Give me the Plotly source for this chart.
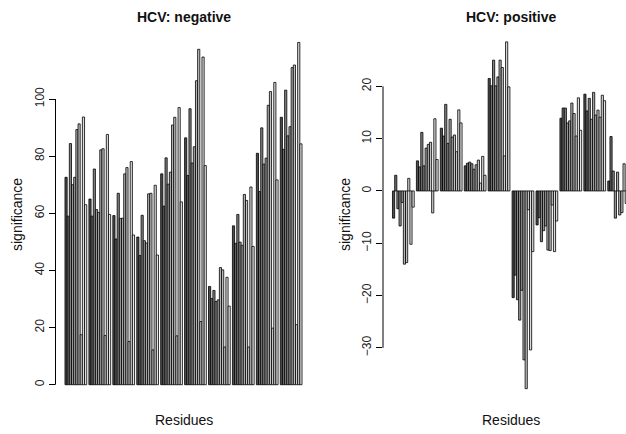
import plotly.graph_objects as go

# Significance per residue, 10 residue groups x 10 series, listed group by group
residue_groups = [f"G{i}" for i in range(1, 11)]
series_names = [f"S{i}" for i in range(1, 11)]

hcv_negative = [
    72.6, 59.0, 84.4, 70.0, 72.6, 89.3, 91.3, 17.5, 93.7, 63.0,
    65.0, 59.0, 75.5, 61.3, 60.3, 82.2, 82.6, 17.2, 87.6, 59.6,
    59.2, 51.0, 67.0, 58.2, 58.3, 73.8, 76.0, 15.1, 78.1, 52.4,
    51.7, 45.2, 59.3, 50.4, 49.6, 66.8, 67.0, 12.2, 69.8, 45.4,
    73.8, 62.5, 79.4, 70.2, 74.4, 90.9, 93.6, 17.1, 97.0, 64.0,
    86.4, 73.2, 96.6, 77.6, 83.3, 106.4, 117.4, 22.1, 114.7, 76.7,
    34.4, 30.2, 33.0, 29.1, 29.7, 41.0, 40.2, 13.2, 37.6, 27.5,
    55.6, 49.5, 59.6, 49.9, 48.8, 66.6, 64.5, 13.2, 69.2, 48.4,
    81.0, 67.6, 89.9, 77.2, 79.3, 97.8, 102.6, 19.8, 105.8, 71.7,
    93.6, 82.4, 103.1, 87.1, 90.3, 111.0, 111.9, 21.0, 119.8, 84.3,
]

hcv_positive = [
    -5.2, 3.0, -3.4, -6.7, -2.2, -14.0, -13.7, 2.4, -10.2, -3.1,
    5.75, 4.6, 11.2, 4.8, 8.2, 8.9, 9.3, -4.2, 13.8, 6.0,
    12.0, 10.5, 16.55, 9.1, 13.7, 10.3, 10.7, 7.5, 15.5, 13.0,
    4.8, 5.3, 5.5, 5.2, 4.15, 5.0, 5.9, 1.5, 6.6, 3.0,
    21.5, 20.1, 25.0, 20.1, 21.8, 25.0, 23.6, 6.7, 28.5, 19.9,
    -20.4, -16.1, -20.8, -24.7, -19.0, -32.3, -37.8, -3.6, -30.4, -11.6,
    -6.5, -5.1, -9.7, -7.6, -6.7, -11.3, -11.4, -2.7, -11.6, -5.75,
    13.9, 15.85, 15.85, 13.0, 13.4, 16.8, 14.8, 10.5, 17.8, 11.6,
    18.5, 15.3, 17.7, 13.7, 18.85, 14.5, 15.45, 14.1, 18.3, 17.25,
    1.9, 10.4, 3.8, -5.2, 3.6, -4.6, -4.15, 5.2, -2.4, -1.5,
]

neg_ticks = [0, 20, 40, 60, 80, 100]
pos_ticks = [-30, -20, -10, 0, 10, 20]

# grey ramp (dark to light), one shade per series
series_grey = [77, 108, 131, 150, 167, 181, 195, 207, 219, 230]

FONT = "Liberation Sans, Arial, sans-serif"
W, H = 626, 434
n_groups = len(residue_groups)
n_series = len(series_names)

fig = go.Figure()


def add_panel(values, xa, ya):
    for s in range(n_series):
        xs, ys = [], []
        for g in range(n_groups):
            # grouped bars: one unit gap before each group, bars of unit width
            xs.append(1 + g * (n_series + 1) + s + 0.5)
            ys.append(values[g * n_series + s])
        g_lvl = series_grey[s]
        fig.add_trace(go.Bar(
            x=xs, y=ys, width=1.0, xaxis=xa, yaxis=ya,
            name=series_names[s], showlegend=False,
            marker=dict(color=f"rgb({g_lvl},{g_lvl},{g_lvl})",
                        line=dict(color="black", width=0.8)),
        ))


add_panel(hcv_negative, "x", "y")
add_panel(hcv_positive, "x2", "y2")

# plot regions in pixels
left_x0, left_x1 = 55.5, 311.5
right_x0 = 383.0
top_px, bot_px = 28.0, 402.0
ydom = [(H - bot_px) / H, (H - top_px) / H]
unit_px = (left_x1 - left_x0) / 117.72
x_lo = -3.36
right_hi = x_lo + (W - right_x0) / unit_px

yax_common = dict(
    domain=ydom, showgrid=False, zeroline=False, showline=False,
    ticks="outside", ticklen=6, tickwidth=1, tickcolor="black",
    tickangle=-90, tickfont=dict(family=FONT, size=12, color="#222222"),
)

fig.update_layout(
    width=W, height=H, margin=dict(l=0, r=0, t=0, b=0),
    paper_bgcolor="white", plot_bgcolor="white", barmode="overlay",
    xaxis=dict(domain=[left_x0 / W, left_x1 / W], range=[x_lo, 114.36],
               visible=False),
    xaxis2=dict(domain=[right_x0 / W, 1.0], range=[x_lo, right_hi],
                visible=False),
    yaxis=dict(range=[-6.05, 124.85], tickvals=neg_ticks, anchor="x",
               **yax_common),
    yaxis2=dict(range=[-40.35, 31.15], tickvals=pos_ticks, anchor="x2",
                **yax_common),
)

# axis lines spanning only the tick range
fig.add_shape(type="line", xref="paper", yref="y",
              x0=left_x0 / W, x1=left_x0 / W, y0=neg_ticks[0], y1=neg_ticks[-1],
              line=dict(color="black", width=1))
fig.add_shape(type="line", xref="paper", yref="y2",
              x0=right_x0 / W, x1=right_x0 / W, y0=pos_ticks[0], y1=pos_ticks[-1],
              line=dict(color="black", width=1))

ann = []
for cx, title in [((left_x0 + left_x1) / 2, "HCV: negative"),
                  ((right_x0 + 639.0) / 2, "HCV: positive")]:
    ann.append(dict(x=cx / W, y=1 - 17 / H, xref="paper", yref="paper",
                    text=f"<b>{title}</b>", showarrow=False,
                    font=dict(family=FONT, size=14, color="#111111"),
                    xanchor="center", yanchor="middle"))
    ann.append(dict(x=cx / W, y=1 - 420 / H, xref="paper", yref="paper",
                    text="Residues", showarrow=False,
                    font=dict(family=FONT, size=14, color="#111111"),
                    xanchor="center", yanchor="middle"))
for lx in [17, 345]:
    ann.append(dict(x=lx / W, y=1 - 215 / H, xref="paper", yref="paper",
                    text="significance", showarrow=False, textangle=-90,
                    font=dict(family=FONT, size=14, color="#111111"),
                    xanchor="center", yanchor="middle"))
fig.update_layout(annotations=ann)

fig.write_html("out.html")
